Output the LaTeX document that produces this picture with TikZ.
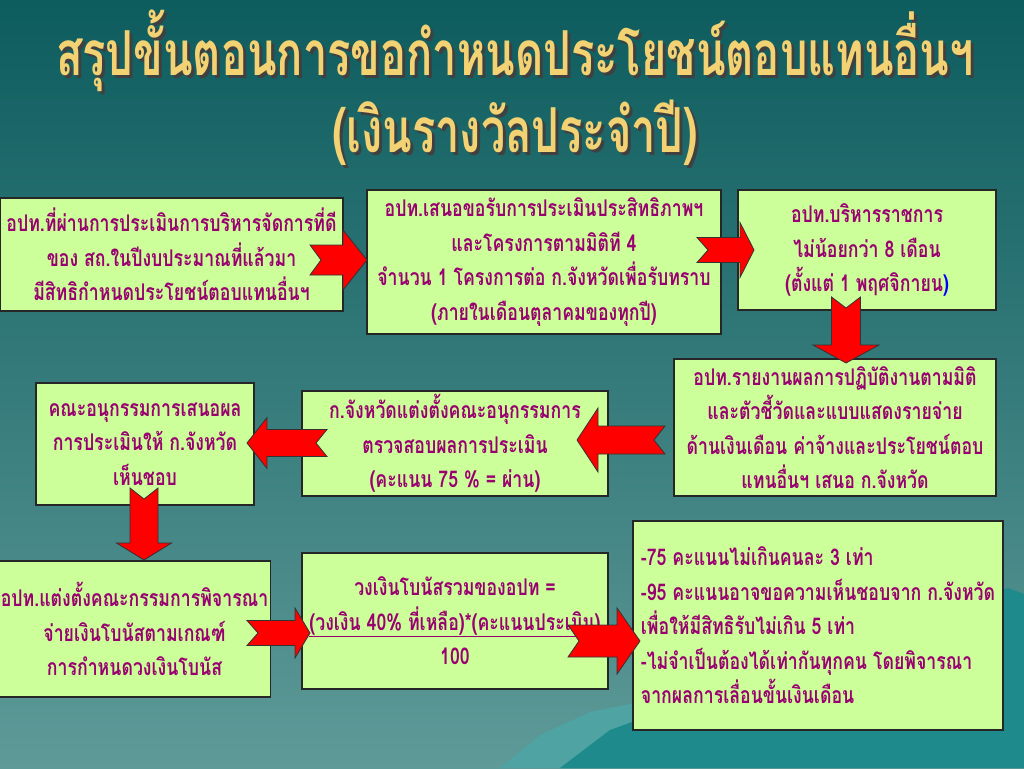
\documentclass[tikz,border=0pt]{standalone}
\usepackage{fontspec}
\newfontfamily\thaifont[Script=Thai,FakeStretch=0.77]{Loma}
\newfontfamily\thaititle[Script=Thai,FakeStretch=0.7]{Loma}
\definecolor{boxgreen}{HTML}{CCFF99}
\definecolor{boxtext}{HTML}{990070}
\definecolor{titlegold}{HTML}{F2D272}
\definecolor{arrowred}{HTML}{FF0000}
\definecolor{bgtop}{HTML}{0D5C5E}
\definecolor{bgbottom}{HTML}{5E9A98}
\definecolor{hill}{HTML}{1E8A8C}
\definecolor{hilllight}{HTML}{4FA3A3}

\tikzset{
  stepbox/.style={draw=black!85, line width=1.3pt, fill=boxgreen, inner sep=2pt,
    align=center, text=boxtext, font=\thaifont\bfseries\fontsize{23}{34.5}\selectfont},
  blockarrow/.style={draw=black!80, line width=0.8pt, fill=arrowred, line join=miter},
  titletext/.style={font=\thaititle\bfseries\fontsize{62}{77}\selectfont, align=center}
}

% notched block arrow: tail, angle, length, head length, body half, head half
\newcommand{\notcharrow}[6]{%
  \begin{scope}[shift={(#1)},rotate=#2]
    \draw[blockarrow] (0,-#5) -- (#3-#4,-#5) -- (#3-#4,-#6) -- (#3,0)
      -- (#3-#4,#6) -- (#3-#4,#5) -- (0,#5) -- (11,0) -- cycle;
  \end{scope}}

\begin{document}
\begin{tikzpicture}[x=1pt,y=-1pt]
  \useasboundingbox (0,0) rectangle (1024,768);
  % background
  \shade[top color=bgtop, bottom color=bgbottom] (0,0) rectangle (1024,768);
  \fill[hilllight] (500,768) -- (540,735) -- (590,712) -- (640,702) -- (700,690) -- (720,768) -- cycle;
  \fill[hill] (560,768) -- (610,730) -- (660,712) -- (720,684) -- (790,655) -- (860,632)
    -- (930,610) -- (980,596) -- (1008,588) -- (1024,594) -- (1024,768) -- cycle;

  % title
  \node[titletext, text=black!75] (titleshadow) at (518,91) {สรุปขั้นตอนการขอกำหนดประโยชน์ตอบแทนอื่นฯ\\(เงินรางวัลประจำปี)};
  \node[titletext, text=titlegold] (title) at (515,88) {สรุปขั้นตอนการขอกำหนดประโยชน์ตอบแทนอื่นฯ\\(เงินรางวัลประจำปี)};

  % boxes
  \node[stepbox, minimum width=343, minimum height=113] (b1) at (171.5,254.5)
    {อปท.ที่ผ่านการประเมินการบริหารจัดการที่ดี\\ของ สถ.ในปีงบประมาณที่แล้วมา\\มีสิทธิกำหนดประโยชน์ตอบแทนอื่นฯ};
  \node[stepbox, minimum width=354, minimum height=144] (b2) at (544,262)
    {อปท.เสนอขอรับการประเมินประสิทธิภาพฯ\\และโครงการตามมิติที 4\\จำนวน 1 โครงการต่อ ก.จังหวัดเพื่อรับทราบ\\(ภายในเดือนตุลาคมของทุกปี)};
  \node[stepbox, minimum width=258, minimum height=120] (b3) at (867,250)
    {อปท.บริหารราชการ\\ไม่น้อยกว่า 8 เดือน\\(ตั้งแต่ 1 พฤศจิกายน{\color{blue})}};
  \node[stepbox, minimum width=322, minimum height=137] (b4) at (835,427.5)
    {อปท.รายงานผลการปฏิบัติงานตามมิติ\\และตัวชี้วัดและแบบแสดงรายจ่าย\\ด้านเงินเดือน ค่าจ้างและประโยชน์ตอบ\\แทนอื่นฯ เสนอ ก.จังหวัด};
  \node[stepbox, minimum width=306, minimum height=105] (b5) at (455,443.5)
    {ก.จังหวัดแต่งตั้งคณะอนุกรรมการ\\ตรวจสอบผลการประเมิน\\(คะแนน 75 \% = ผ่าน)};
  \node[stepbox, minimum width=218, minimum height=122] (b6) at (145,444)
    {คณะอนุกรรมการเสนอผล\\การประเมินให้ ก.จังหวัด\\เห็นชอบ};
  \node[stepbox, minimum width=269, minimum height=136] (b7) at (134.5,629)
    {อปท.แต่งตั้งคณะกรรมการพิจารณา\\จ่ายเงินโบนัสตามเกณฑ์\\การกำหนดวงเงินโบนัส};
  \node[stepbox, minimum width=306, minimum height=136] (b8) at (455,621)
    {วงเงินโบนัสรวมของอปท =\\\underline{(วงเงิน 40\% ที่เหลือ)*(คะแนนประเมิน)}\\100};
  \node[stepbox, align=left, minimum width=370, minimum height=209] (b9) at (818,625.5)
    {-75 คะแนนไม่เกินคนละ 3 เท่า\\-95 คะแนนอาจขอความเห็นชอบจาก ก.จังหวัด\\เพื่อให้มีสิทธิรับไม่เกิน 5 เท่า\\-ไม่จำเป็นต้องได้เท่ากันทุกคน โดยพิจารณา\\จากผลการเลื่อนขั้นเงินเดือน};

  % arrow tails
  \coordinate (a1) at (310,260);
  \coordinate (a2) at (697,250);
  \coordinate (a3) at (846,297);
  \coordinate (a4) at (665,440);
  \coordinate (a5) at (327,443);
  \coordinate (a6) at (144,488);
  \coordinate (a7) at (247,633);
  \coordinate (a8) at (568,641);

  % arrows
  \notcharrow{a1}{0}{57}{24}{15}{30}
  \notcharrow{a2}{0}{57}{14}{12.5}{27.5}
  \notcharrow{a3}{-90}{66}{18}{14.5}{33}
  \notcharrow{a4}{180}{88}{21}{14}{32}
  \notcharrow{a5}{180}{80}{20}{13.5}{25.5}
  \notcharrow{a6}{-90}{72}{17}{14}{27.5}
  \notcharrow{a7}{0}{63}{15}{12.5}{25}
  \notcharrow{a8}{0}{72}{23}{16}{33}
\end{tikzpicture}
\end{document}
